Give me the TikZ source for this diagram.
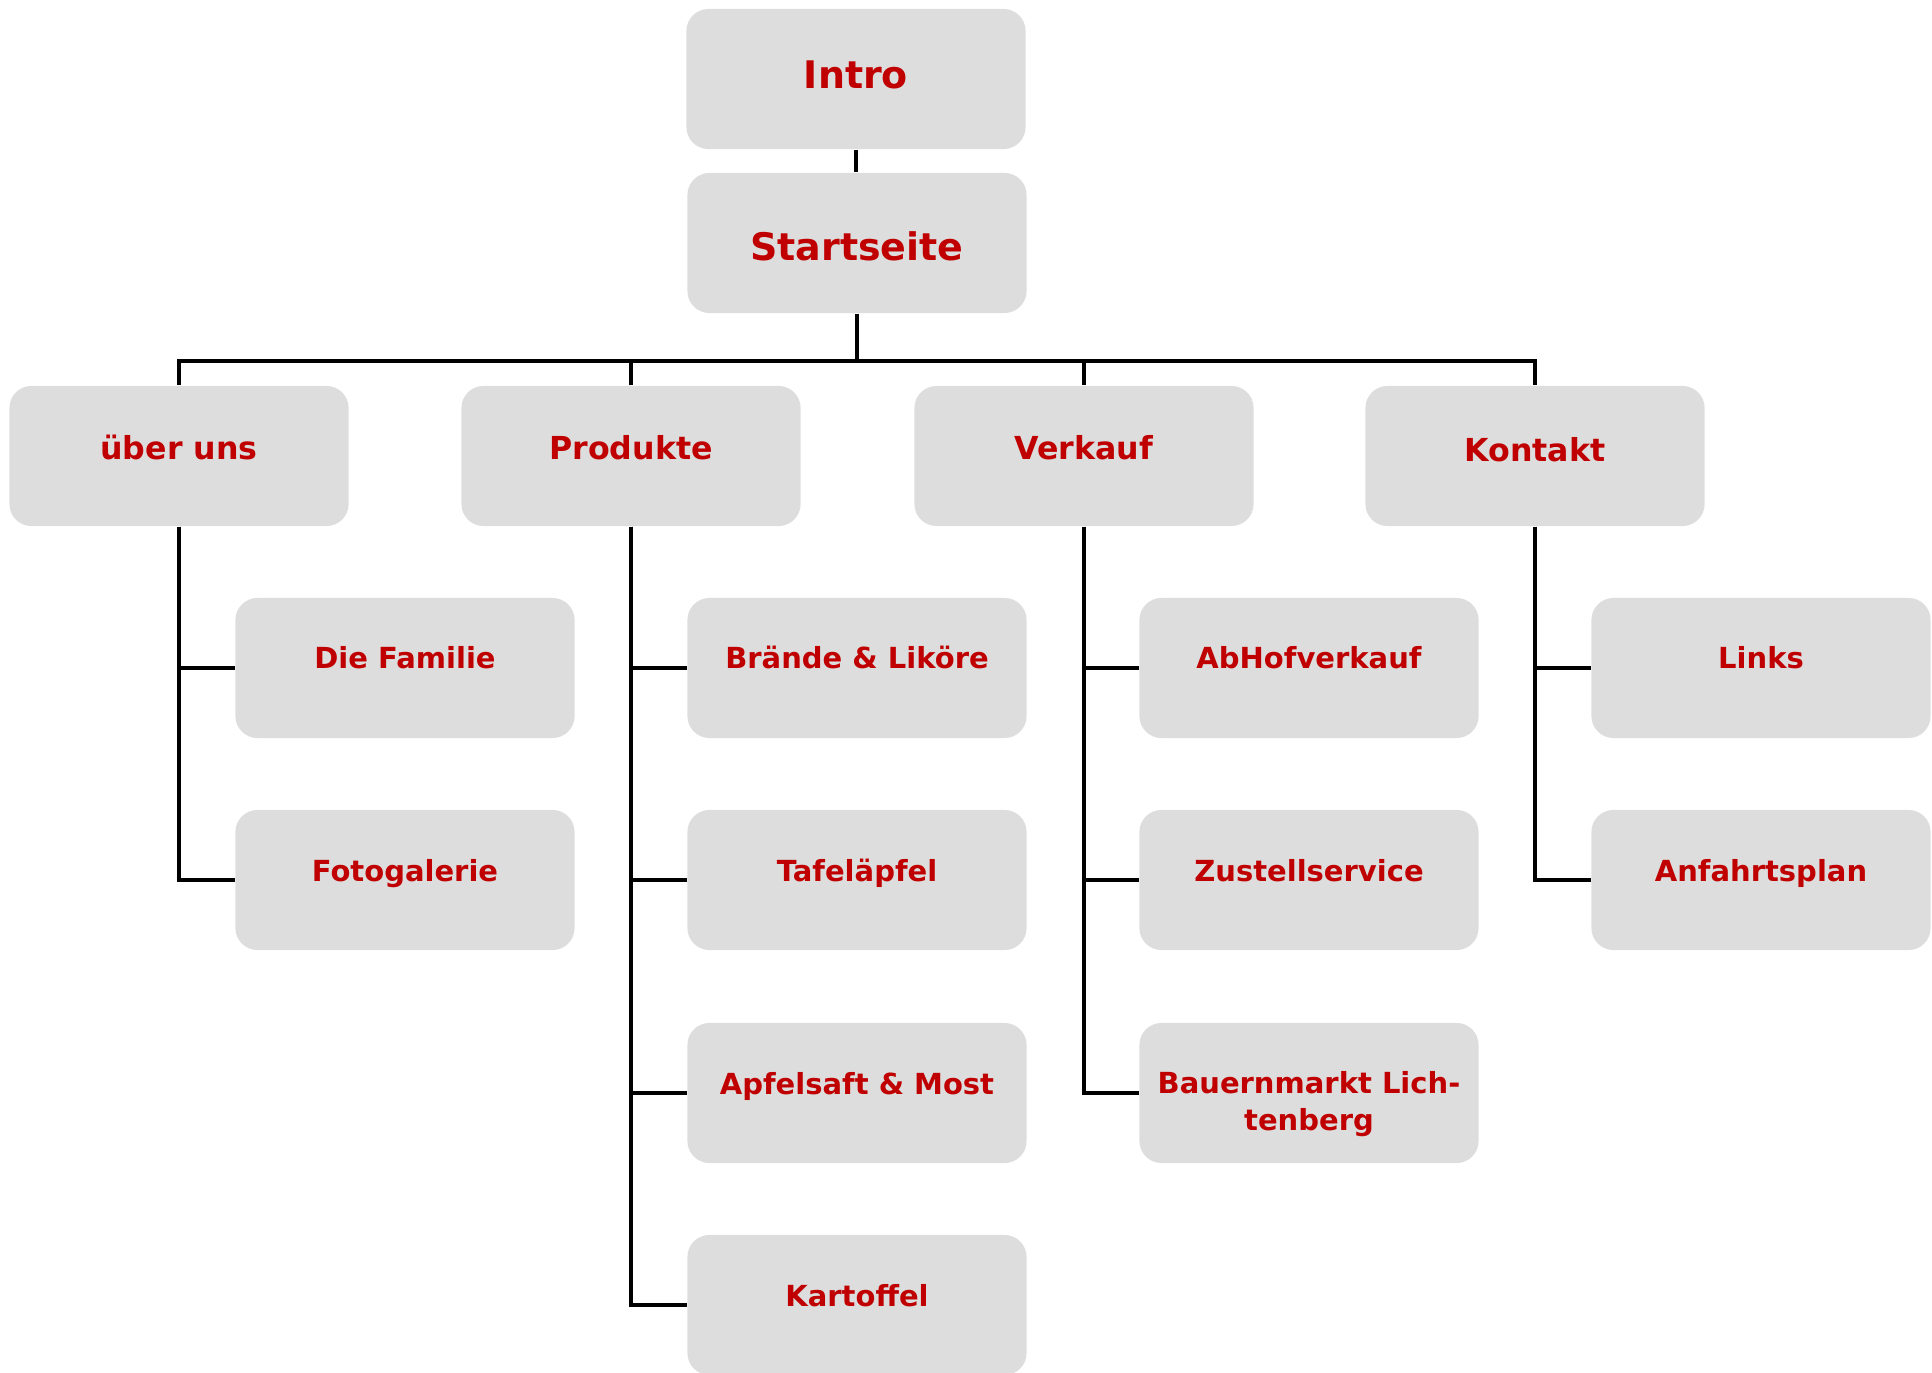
\documentclass[tikz,border=0pt]{standalone}
\usepackage{fontspec}
\setmainfont{DejaVu Sans}
\usetikzlibrary{calc}
\definecolor{boxgray}{HTML}{DDDDDD}
\definecolor{labelred}{HTML}{C00000}
\begin{document}
\begin{tikzpicture}[x=0.01cm,y=-0.01cm,
  card/.style={fill=boxgray,draw=none,rounded corners=0.22cm,
    minimum width=3.39cm,minimum height=1.40cm,inner sep=0pt},
  toptext/.style={text=labelred,font=\fontsize{10.8}{13}\bfseries\selectfont,anchor=base,inner sep=0pt},
  maintext/.style={text=labelred,font=\fontsize{9}{11}\bfseries\selectfont,anchor=base,inner sep=0pt},
  subtext/.style={text=labelred,font=\fontsize{8.25}{10.24}\bfseries\selectfont,anchor=base,inner sep=0pt,align=center},
  link/.style={draw=black,line width=0.95pt}]
\useasboundingbox (0,0) rectangle (1932,1373);

% top of the tree
\node[card] (intro) at (856,79) {};
\node[toptext] (introT) at ($(intro.center)+(0,10)$) {Intro};
\node[card] (start) at (857,243) {};
\node[toptext] (startT) at ($(start.center)+(0,18)$) {Startseite};

% main sections
\node[card] (ueber) at (179,456) {};
\node[maintext] (ueberT) at ($(ueber.center)+(0,3)$) {über uns};
\node[card] (prod) at (631,456) {};
\node[maintext] (prodT) at ($(prod.center)+(0,3)$) {Produkte};
\node[card] (verk) at (1084,456) {};
\node[maintext] (verkT) at ($(verk.center)+(0,3)$) {Verkauf};
\node[card] (kont) at (1535,456) {};
\node[maintext] (kontT) at ($(kont.center)+(0,6)$) {Kontakt};

% sub pages: über uns
\node[card] (fam) at (405,668) {};
\node[subtext] (famT) at ($(fam.center)+(0,1)$) {Die Familie};
\node[card] (foto) at (405,880) {};
\node[subtext] (fotoT) at ($(foto.center)+(0,1)$) {Fotogalerie};

% sub pages: Produkte
\node[card] (braende) at (857,668) {};
\node[subtext] (braendeT) at ($(braende.center)+(0,1)$) {Brände \& Liköre};
\node[card] (tafel) at (857,880) {};
\node[subtext] (tafelT) at ($(tafel.center)+(0,1)$) {Tafeläpfel};
\node[card] (saft) at (857,1093) {};
\node[subtext] (saftT) at ($(saft.center)+(0,1)$) {Apfelsaft \& Most};
\node[card] (kart) at (857,1305) {};
\node[subtext] (kartT) at ($(kart.center)+(0,1)$) {Kartoffel};

% sub pages: Verkauf
\node[card] (abhof) at (1309,668) {};
\node[subtext] (abhofT) at ($(abhof.center)+(0,1)$) {AbHofverkauf};
\node[card] (zust) at (1309,880) {};
\node[subtext] (zustT) at ($(zust.center)+(0,1)$) {Zustellservice};
\node[card] (markt) at (1309,1093) {};
% base of a two-line node is its last line
\node[subtext] (marktT) at ($(markt.center)+(0,37)$) {Bauernmarkt Lich-\\tenberg};

% sub pages: Kontakt
\node[card] (links) at (1761,668) {};
\node[subtext] (linksT) at ($(links.center)+(0,1)$) {Links};
\node[card] (anf) at (1761,880) {};
\node[subtext] (anfT) at ($(anf.center)+(0,1)$) {Anfahrtsplan};

% connectors
\coordinate (bus) at (857,361);
\draw[link] (intro.south) -- (intro.south |- start.north);
\draw[link] (start.south) -- (bus);
\draw[link] (ueber.north) -- (ueber.north |- bus) -- (kont.north |- bus) -- (kont.north);
\draw[link] (prod.north) -- (prod.north |- bus);
\draw[link] (verk.north) -- (verk.north |- bus);

\draw[link] (ueber.south) |- (fam.west);
\draw[link] (ueber.south) |- (foto.west);
\draw[link] (prod.south) |- (braende.west);
\draw[link] (prod.south) |- (tafel.west);
\draw[link] (prod.south) |- (saft.west);
\draw[link] (prod.south) |- (kart.west);
\draw[link] (verk.south) |- (abhof.west);
\draw[link] (verk.south) |- (zust.west);
\draw[link] (verk.south) |- (markt.west);
\draw[link] (kont.south) |- (links.west);
\draw[link] (kont.south) |- (anf.west);
\end{tikzpicture}
\end{document}
